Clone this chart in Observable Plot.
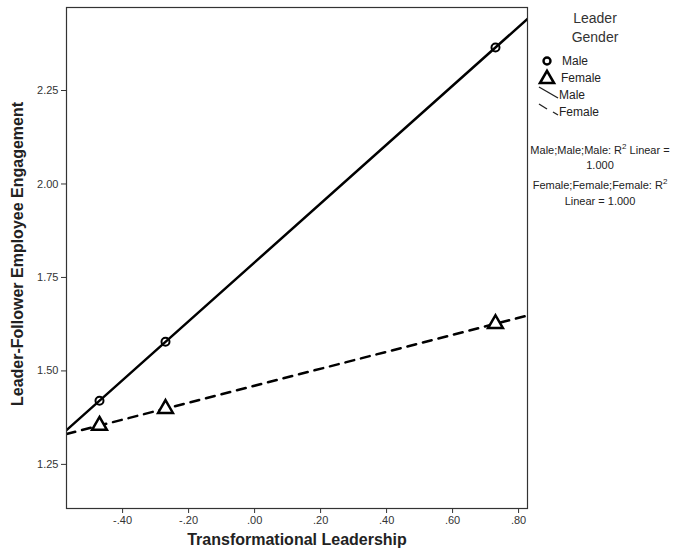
<!DOCTYPE html>
<html>
<head>
<meta charset="utf-8">
<script src="https://cdn.jsdelivr.net/npm/d3@7"></script>
<script src="https://cdn.jsdelivr.net/npm/@observablehq/plot@0.6"></script>
<style>
  body { margin: 0; background: #fff; font-family: "Liberation Sans", Arial, sans-serif; }
  #wrap { position: relative; width: 678px; height: 560px; }
  #wrap > svg.plot { position: absolute; left: 0; top: 0; }
  .lg { position: absolute; color: #222; font-size: 12px; white-space: nowrap; }
</style>
</head>
<body>
<div id="wrap"></div>
<script>
// Data
const xValues = [-0.47, -0.27, 0.73];
const maleValues = [1.42, 1.578, 2.365];
const femaleValues = [1.354, 1.399, 1.626];
const xTicks = [-0.4, -0.2, 0, 0.2, 0.4, 0.6, 0.8];
const yTicks = [1.25, 1.5, 1.75, 2.0, 2.25];
const xDomain = [-0.57, 0.827];
const yDomain = [1.132, 2.472];

const points = [
  ...xValues.map((x, i) => ({x, y: maleValues[i], g: "Male"})),
  ...xValues.map((x, i) => ({x, y: femaleValues[i], g: "Female"}))
];

function fit(ys) {
  const mx = d3.mean(xValues), my = d3.mean(ys);
  const b = d3.sum(xValues, (x, i) => (x - mx) * (ys[i] - my)) / d3.sum(xValues, x => (x - mx) ** 2);
  const a = my - b * mx;
  return xDomain.map(x => ({x, y: a + b * x}));
}
const maleLine = fit(maleValues);
const femaleLine = fit(femaleValues);

const fmtX = d => d3.format(".2f")(d).replace("\u2212", "-").replace("0.", ".");

const chart = Plot.plot({
  width: 678, height: 560,
  marginLeft: 66, marginRight: 151, marginTop: 7, marginBottom: 52,
  style: {fontFamily: "'Liberation Sans', Arial, sans-serif", background: "#fff"},
  x: {domain: xDomain},
  y: {domain: yDomain},
  marks: [
    Plot.axisX({ticks: xTicks, tickFormat: fmtX, tickSize: 5, tickPadding: 3, fontSize: 11, color: "#333", label: null}),
    Plot.axisY({ticks: yTicks, tickFormat: ".2f", tickSize: 5, tickPadding: 3, fontSize: 11, color: "#333", label: null}),
    Plot.line(maleLine, {x: "x", y: "y", stroke: "#000", strokeWidth: 2.5, clip: true}),
    Plot.line(femaleLine, {x: "x", y: "y", stroke: "#000", strokeWidth: 2.5, strokeDasharray: "9,7", clip: true}),
    Plot.dot(points.filter(d => d.g === "Male"), {x: "x", y: "y", symbol: "circle", r: 4, stroke: "#000", strokeWidth: 2, fill: "none"}),
    Plot.dot(points.filter(d => d.g === "Female"), {x: "x", y: "y", symbol: "triangle", r: 5.5, stroke: "#000", strokeWidth: 2.5, fill: "#fff"}),
    Plot.frame({stroke: "#333", strokeWidth: 1.2}),
    Plot.text(["Transformational Leadership"], {frameAnchor: "bottom", textAnchor: "middle", dy: 36, fontSize: 16, fontWeight: "bold", fill: "#222"}),
    Plot.text(["Leader-Follower Employee Engagement"], {frameAnchor: "left", textAnchor: "middle", rotate: -90, dx: -49, dy: -4, fontSize: 16, fontWeight: "bold", fill: "#222"})
  ]
});
chart.classList.add("plot");
const wrap = document.getElementById("wrap");
wrap.appendChild(chart);

// Legend
function lg(text, left, top, extra = "") {
  const d = document.createElement("div");
  d.className = "lg";
  d.style.cssText = `left:${left}px;top:${top}px;${extra}`;
  d.innerHTML = text;
  wrap.appendChild(d);
}
lg("Leader<br>Gender", 560, 9, "text-align:center;width:70px;font-size:14px;line-height:19px;color:#333;");
lg("Male", 562, 54, "font-size:12px;");
lg("Female", 561, 71, "font-size:12px;");
lg("Male", 559, 88, "font-size:12px;");
lg("Female", 559, 105, "font-size:12px;");
lg("Male;Male;Male: R<sup style='font-size:8px'>2</sup> Linear =<br>1.000<br>Female;Female;Female: R<sup style='font-size:8px'>2</sup><br>Linear = 1.000",
   520, 139, "text-align:center;width:160px;font-size:11px;line-height:15.8px;");

const ns = "http://www.w3.org/2000/svg";
const icons = document.createElementNS(ns, "svg");
icons.setAttribute("width", 678); icons.setAttribute("height", 560);
icons.style.cssText = "position:absolute;left:0;top:0;pointer-events:none";
icons.innerHTML = `
  <circle cx="547" cy="61" r="3.5" fill="none" stroke="#000" stroke-width="2.4"/>
  <path d="${d3.symbol(d3.symbolTriangle, 85)()}" transform="translate(547,79)" fill="#fff" stroke="#000" stroke-width="2.6"/>
  <line x1="539" y1="87" x2="558" y2="98" stroke="#222" stroke-width="1.4"/>
  <line x1="539" y1="104" x2="547" y2="109" stroke="#222" stroke-width="1.4"/>
  <line x1="553" y1="112" x2="558" y2="115" stroke="#222" stroke-width="1.4"/>
`;
wrap.appendChild(icons);
</script>
</body>
</html>
